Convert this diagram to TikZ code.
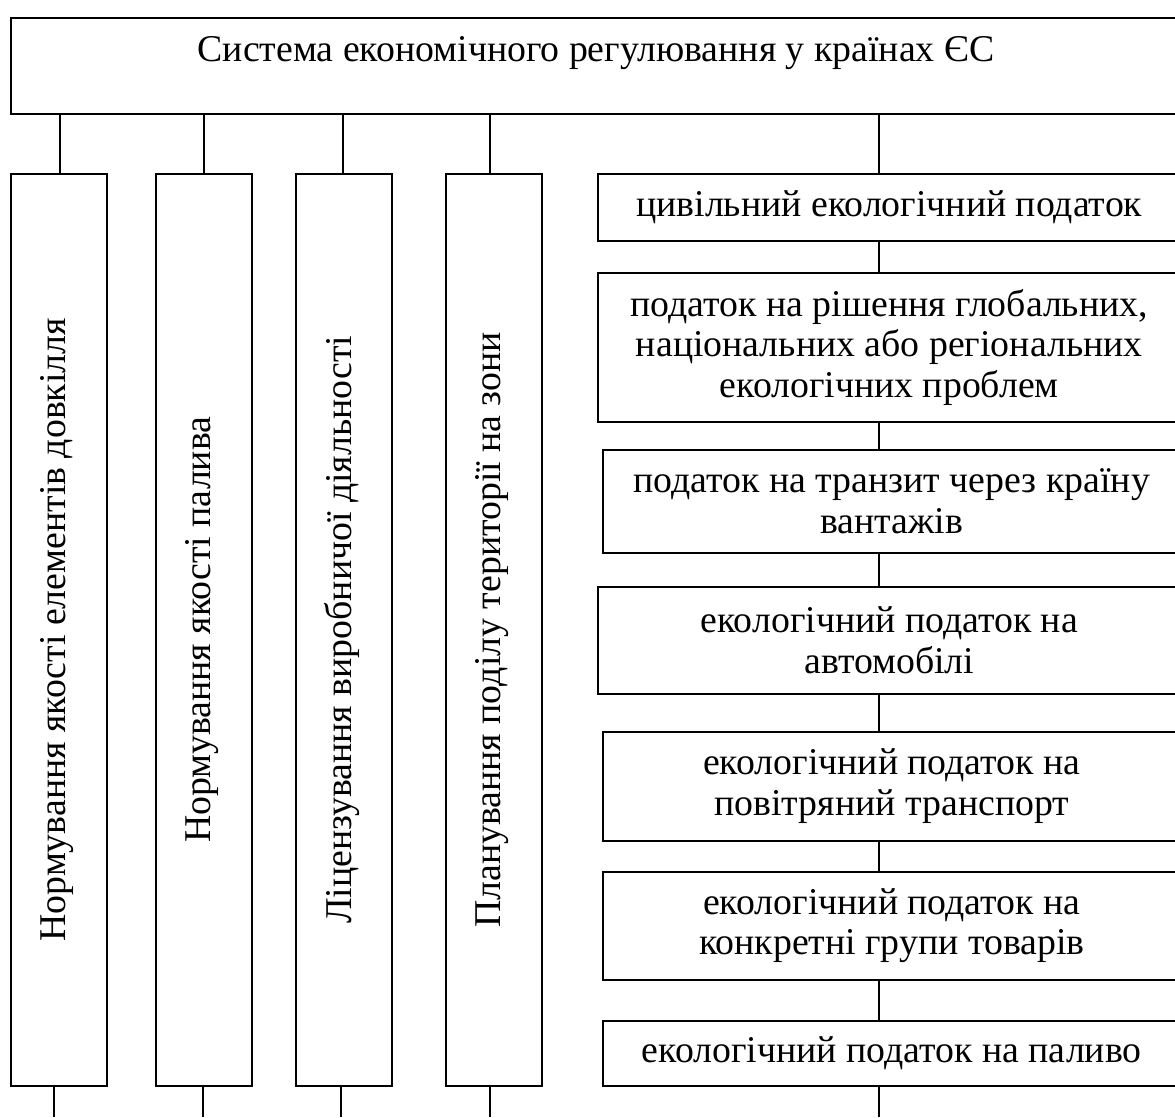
\documentclass[tikz,border=0pt]{standalone}
\usepackage{fontspec}
\setmainfont{Liberation Serif}
\begin{document}
\begin{tikzpicture}[x=1pt,y=-1pt,
  txt/.style={font=\fontsize{37.8}{40.5}\selectfont, align=center, inner sep=0pt},
  box/.style={txt, draw, line width=1.6pt, anchor=north west},
  link/.style={line width=1.3pt}]
\useasboundingbox (0,0) rectangle (1175,1117);
\fill[white] (0,0) rectangle (1175,1117);
% top box
\node[box, minimum width=1172pt, minimum height=96pt] (top) at (10,17) {};
\node[txt, anchor=base] (title) at (596,61) {Система економічного регулювання у країнах ЄС};
% columns
\node[box, minimum width=96pt, minimum height=912pt] (c1) at (10,173) {};
\node[box, minimum width=96pt, minimum height=912pt] (c2) at (155,173) {};
\node[box, minimum width=96pt, minimum height=912pt] (c3) at (295,173) {};
\node[box, minimum width=96pt, minimum height=912pt] (c4) at (445,173) {};
\node[txt, rotate=90] (t1) at ([xshift=-2pt]c1.center) {Нормування якості елементів довкілля};
\node[txt, rotate=90] (t2) at ([xshift=-2pt]c2.center) {Нормування якості палива};
\node[txt, rotate=90] (t3) at ([xshift=-2pt]c3.center) {Ліцензування виробничої діяльності};
\node[txt, rotate=90] (t4) at ([xshift=-2pt]c4.center) {Планування поділу території на зони};
% right boxes
\node[box, minimum width=583pt, minimum height=67pt] (r1) at (597,173) {цивільний екологічний податок};
\node[box, minimum width=583pt, minimum height=149pt] (r2) at (597,272) {податок на рішення глобальних,\\національних або регіональних\\екологічних проблем};
\node[box, minimum width=578pt, minimum height=103pt] (r3) at (602,449) {податок на транзит через країну\\вантажів};
\node[box, minimum width=583pt, minimum height=107pt] (r4) at (597,586) {екологічний податок на\\автомобілі};
\node[box, minimum width=578pt, minimum height=109pt] (r5) at (602,731) {екологічний податок на\\повітряний транспорт};
\node[box, minimum width=578pt, minimum height=108pt] (r6) at (602,871) {екологічний податок на\\конкретні групи товарів};
\node[box, minimum width=578pt, minimum height=65pt] (r7) at (602,1020) {екологічний податок на паливо};
% connector coordinates
\coordinate (k1) at (60,0);
\coordinate (k2) at (204,0);
\coordinate (k3) at (343,0);
\coordinate (k4) at (490,0);
\coordinate (rx) at (879,0);
\coordinate (b1) at (54,1117);
\coordinate (b2) at (203,1117);
\coordinate (b3) at (341,1117);
\coordinate (b4) at (490,1117);
\coordinate (b5) at (879,1117);
% top connectors
\draw[link] (top.south -| k1) -- (c1.north -| k1);
\draw[link] (top.south -| k2) -- (c2.north -| k2);
\draw[link] (top.south -| k3) -- (c3.north -| k3);
\draw[link] (top.south -| k4) -- (c4.north -| k4);
\draw[link] (top.south -| rx) -- (r1.north -| rx);
% chain
\draw[link] (r1.south -| rx) -- (r2.north -| rx);
\draw[link] (r2.south -| rx) -- (r3.north -| rx);
\draw[link] (r3.south -| rx) -- (r4.north -| rx);
\draw[link] (r4.south -| rx) -- (r5.north -| rx);
\draw[link] (r5.south -| rx) -- (r6.north -| rx);
\draw[link] (r6.south -| rx) -- (r7.north -| rx);
% bottom stubs
\draw[link] (c1.south -| b1) -- (b1);
\draw[link] (c2.south -| b2) -- (b2);
\draw[link] (c3.south -| b3) -- (b3);
\draw[link] (c4.south -| b4) -- (b4);
\draw[link] (r7.south -| b5) -- (b5);
\end{tikzpicture}
\end{document}
